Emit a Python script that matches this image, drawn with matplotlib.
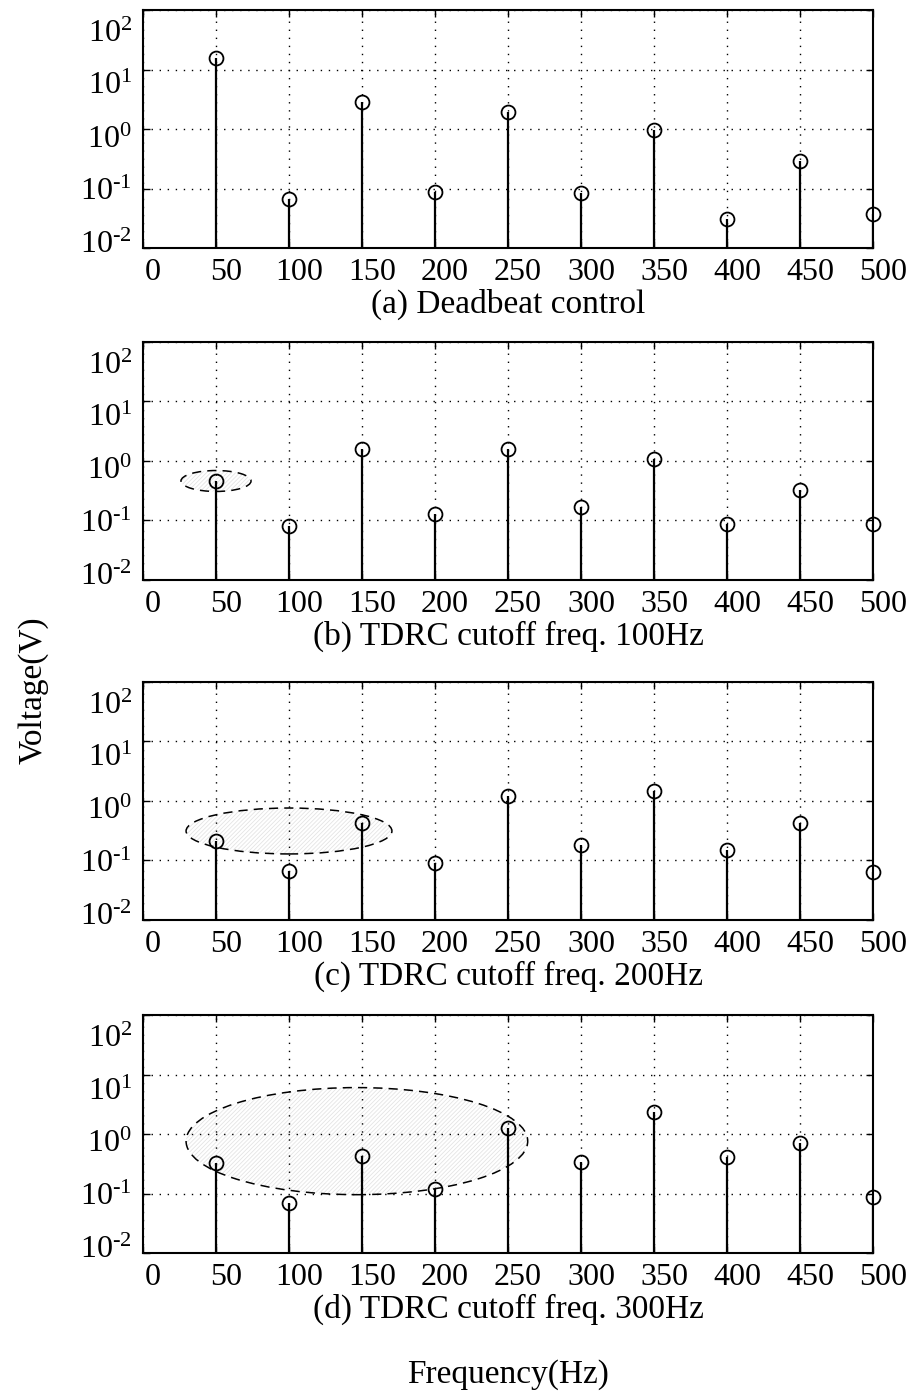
import matplotlib
matplotlib.use("Agg")
import matplotlib.pyplot as plt
from matplotlib.patches import Ellipse
from matplotlib.ticker import NullLocator, FixedLocator
from matplotlib.transforms import ScaledTranslation

plt.rcParams["font.family"] = ["Liberation Serif", "DejaVu Serif"]
plt.rcParams["mathtext.fontset"] = "custom"
plt.rcParams["mathtext.rm"] = "Liberation Serif"
plt.rcParams["mathtext.it"] = "Liberation Serif:italic"
plt.rcParams["hatch.linewidth"] = 0.55

freqs = [50, 100, 150, 200, 250, 300, 350, 400, 450, 500]

deadbeat = [15.5, 0.067, 2.8, 0.088, 1.9, 0.085, 0.95, 0.031, 0.29, 0.037]
tdrc_100 = [0.46, 0.081, 1.6, 0.13, 1.6, 0.17, 1.07, 0.087, 0.32, 0.087]
tdrc_200 = [0.21, 0.066, 0.43, 0.091, 1.2, 0.18, 1.5, 0.15, 0.43, 0.065]
tdrc_300 = [0.32, 0.069, 0.43, 0.12, 1.26, 0.34, 2.3, 0.41, 0.70, 0.087]

captions = [
    "(a) Deadbeat control",
    "(b) TDRC cutoff freq. 100Hz",
    "(c) TDRC cutoff freq. 200Hz",
    "(d) TDRC cutoff freq. 300Hz",
]
series = [deadbeat, tdrc_100, tdrc_200, tdrc_300]

# highlighted regions (axes-fraction centre x, centre y, width, height)
highlights = [
    None,
    (0.100, 0.416, 0.096, 0.088),
    (0.200, 0.374, 0.282, 0.193),
    (0.293, 0.470, 0.468, 0.450),
]

xticks = list(range(0, 501, 50))
ytick_vals = [1e2, 1e1, 1e0, 1e-1, 1e-2]
ytick_labels = ["$\\mathregular{10^{2}}$",
                "$\\mathregular{10^{1}}$",
                "$\\mathregular{10^{0}}$",
                "$\\mathregular{10^{\u20101}}$",
                "$\\mathregular{10^{\u20102}}$"]
# the exponent labels are packed a little tighter than the decades
ylabel_drop_px = [32, 25, 18.5, 11.5, 5]

W, H = 915, 1394
fig = plt.figure(figsize=(W / 100, H / 100), dpi=100)

left_px, right_px = 143, 873
tops_px = [10, 342, 682, 1015]
ax_h_px = 238

tick_fs = 23
label_fs = 24

for top, vals, cap, hl in zip(tops_px, series, captions, highlights):
    ax = fig.add_axes([left_px / W, 1 - (top + ax_h_px) / H,
                       (right_px - left_px) / W, ax_h_px / H])
    ax.set_yscale("log")
    ax.set_xlim(0, 500)
    ax.set_ylim(1e-2, 1e2)
    ax.yaxis.set_major_locator(FixedLocator(ytick_vals))
    ax.yaxis.set_minor_locator(NullLocator())
    ax.set_yticklabels([])
    ax.set_xticks(xticks)
    ax.grid(True, which="major", linestyle=(0, (1, 4.8)), color="black",
            linewidth=1.0)

    if hl is not None:
        cx, cy, w, h = hl
        ax.add_patch(Ellipse((cx, cy), w, h, transform=ax.transAxes,
                             facecolor="none", edgecolor="#e2e2e2",
                             hatch="////////", linewidth=0, zorder=1))
        ax.add_patch(Ellipse((cx, cy), w, h, transform=ax.transAxes,
                             facecolor="none", edgecolor="black",
                             linestyle=(0, (6, 4)), linewidth=1.1, zorder=4))

    ml, sl, bl = ax.stem(freqs, vals, bottom=1e-2, basefmt=" ")
    plt.setp(sl, color="black", linewidth=1.6)
    plt.setp(ml, marker="o", markersize=10, markerfacecolor="none",
             markeredgecolor="black", markeredgewidth=1.3)
    ml.set_clip_on(False)
    ml.set_zorder(5)
    sl.set_zorder(5)

    for s in ax.spines.values():
        s.set_linewidth(1.5)
    ax.tick_params(direction="in", top=True, right=True, length=5, width=1,
                   labelsize=tick_fs, pad=7)
    ax.set_axisbelow(False)

    # frequency labels sit slightly right of their ticks
    xshift = ScaledTranslation(0.10, 0, fig.dpi_scale_trans)
    for lab in ax.get_xticklabels():
        lab.set_transform(lab.get_transform() + xshift)

    # exponent labels: digits start just below each tick
    for val, txt, drop in zip(ytick_vals, ytick_labels, ylabel_drop_px):
        tr = ax.get_yaxis_transform() + ScaledTranslation(
            -11 / 100, -drop / 100, fig.dpi_scale_trans)
        ax.text(0, val, txt, transform=tr, ha="right", va="baseline",
                fontsize=tick_fs, clip_on=False)

    ax.text(0.5, -0.235, cap, transform=ax.transAxes, ha="center", va="center",
            fontsize=label_fs)

fig.text(33 / W, 1 - 690 / H, "Voltage(V)", rotation=90, ha="center",
         va="center", fontsize=label_fs)
fig.text(508 / W, 1 - 1375 / H, "Frequency(Hz)", ha="center", va="center",
         fontsize=label_fs)

fig.savefig("out.png", dpi=100, facecolor="white")
